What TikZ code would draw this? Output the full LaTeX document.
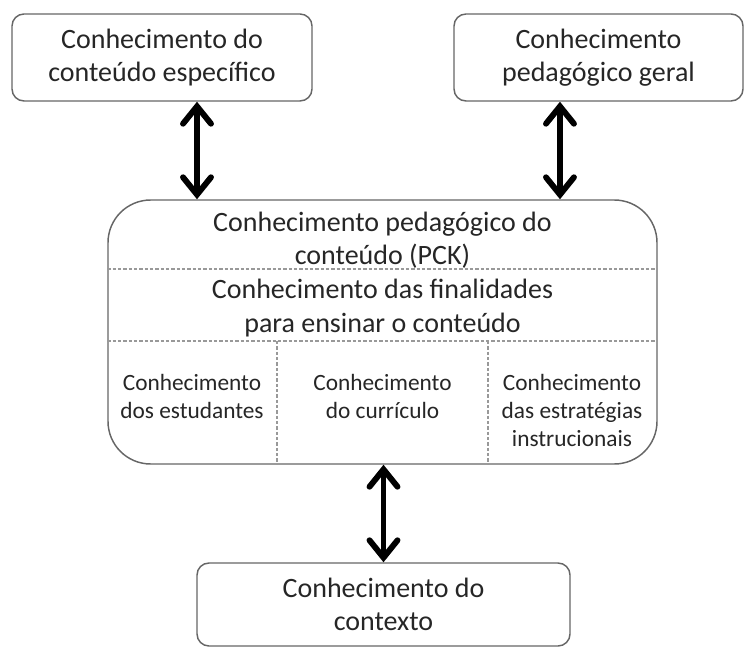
\documentclass[tikz,border=0pt]{standalone}
\usepackage{fontspec}
\setmainfont{Carlito}
\usetikzlibrary{arrows.meta,calc}

\begin{document}
\begin{tikzpicture}[x=0.75pt,y=-0.75pt]
  \tikzstyle{every node}=[font=\fontsize{21}{25}\selectfont, text=black!85, align=center]
  \tikzstyle{box}=[draw=black!60, line width=1.1pt, rounded corners=9pt, inner sep=0pt]
  \tikzstyle{part}=[font=\fontsize{17.5}{21}\selectfont, inner sep=0pt, anchor=north]
  \tikzstyle{sep}=[draw=black!40, line width=0.9pt, dash pattern=on 2.5pt off 1.5pt]
  \tikzstyle{link}=[line width=4.4pt, line cap=round, {Straight Barb[length=13pt,width=21pt,line cap=round]}-{Straight Barb[length=13pt,width=21pt,line cap=round]}]
  \useasboundingbox (0,0) rectangle (745,648);

 \node[box, minimum width=225pt, minimum height=65.25pt] (espec) at (162,57.5) {Conhecimento do\\conteúdo específico};
 \node[box, minimum width=216.75pt, minimum height=65.25pt] (geral) at (598.5,57.5) {Conhecimento\\pedagógico geral};
 \node[box, rounded corners=32pt, minimum width=411.75pt, minimum height=198pt] (pck) at (382.5,332) {};
 \node[box, minimum width=279.75pt, minimum height=62.25pt] (ctx) at (383.5,604.5) {Conhecimento do\\contexto};

 % parts of the PCK
 \node[inner sep=0pt] (titulo) at (382.5,240) {Conhecimento pedagógico do\\conteúdo (PCK)};
 \node[inner sep=0pt] (fins) at (382.5,308) {Conhecimento das finalidades\\para ensinar o conteúdo};
 \node[part] (estud) at (192,374) {Conhecimento\\dos estudantes};
 \node[part] (curric) at (382.5,374) {Conhecimento\\do currículo};
 \node[part] (estrat) at (572,374) {Conhecimento\\das estratégias\\instrucionais};

 \draw[sep] (pck.west |- 0,269) -- (pck.east |- 0,269);
 \draw[sep] (pck.west |- 0,341) -- (pck.east |- 0,341);
 \draw[sep] (277,341) -- (pck.south -| 277,0);
 \draw[sep] (488,341) -- (pck.south -| 488,0);

 \draw[link] ([xshift=26.25pt]espec.south) -- ([xshift=26.25pt]espec.south |- pck.north);
 \draw[link] ([xshift=-28.9pt]geral.south) -- ([xshift=-28.9pt]geral.south |- pck.north);
 \draw[link] (pck.south -| ctx.north) -- (ctx.north);

\end{tikzpicture}
\end{document}
